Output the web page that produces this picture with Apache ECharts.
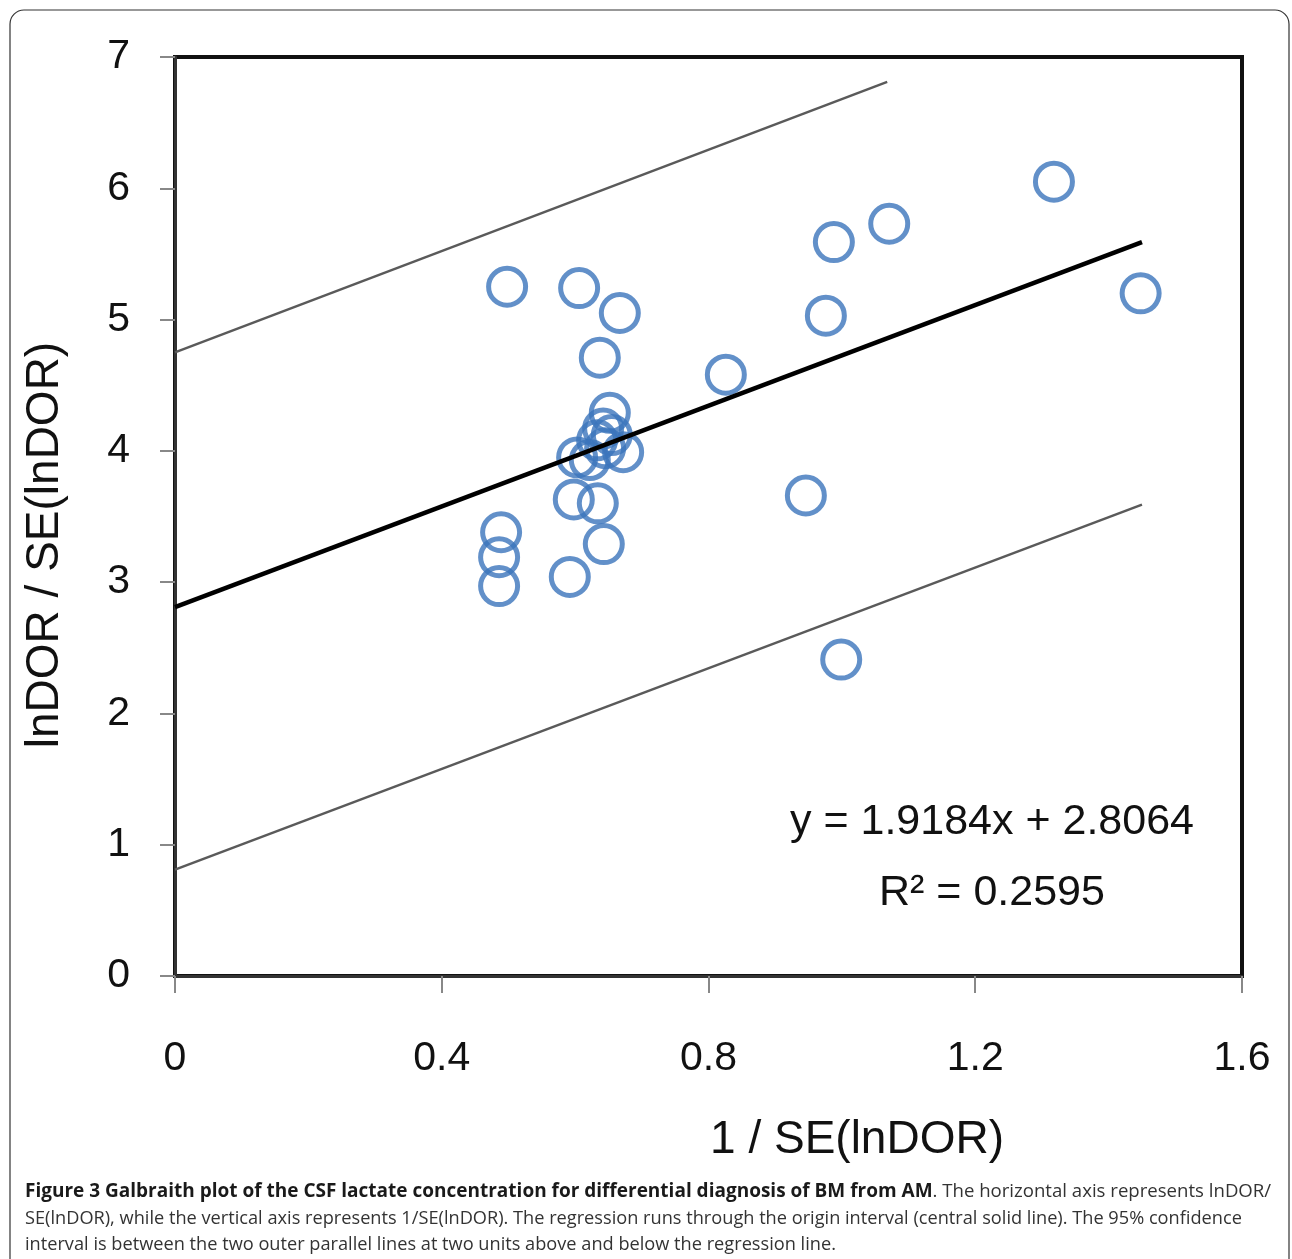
<!DOCTYPE html>
<html>
<head>
<meta charset="utf-8">
<script src="https://cdn.jsdelivr.net/npm/echarts@6/dist/echarts.min.js"></script>
<style>
html,body{margin:0;padding:0;background:#fff;}
#chart{width:1292px;height:1259px;}
</style>
</head>
<body>
<div id="chart"></div>
<script>
// Study points: x = 1/SE(lnDOR), y = lnDOR/SE(lnDOR)
const xValues = [0.498, 0.606, 0.667, 0.637, 0.826, 0.976, 0.988, 1.071, 1.318, 1.448,
                 0.946, 0.999, 0.489, 0.486, 0.486, 0.592, 0.643, 0.598, 0.634, 0.603,
                 0.652, 0.642, 0.655, 0.633, 0.672, 0.645, 0.622];
const yValues = [5.25, 5.24, 5.05, 4.71, 4.58, 5.03, 5.59, 5.73, 6.05, 5.20,
                 3.66, 2.41, 3.38, 3.19, 2.97, 3.04, 3.29, 3.63, 3.60, 3.95,
                 4.29, 4.17, 4.12, 4.08, 3.99, 4.02, 3.93];

// Regression line and 95% limits (end points)
const regLineX = [0, 1.45];
const regLineY = [2.81, 5.59];
const upperLineX = [0, 1.068];
const upperLineY = [4.75, 6.81];
const lowerLineX = [0, 1.45];
const lowerLineY = [0.81, 3.59];

const xTicks = [0, 0.4, 0.8, 1.2, 1.6];
const yTicks = [0, 1, 2, 3, 4, 5, 6, 7];

const equationText = 'y = 1.9184x + 2.8064';
const r2Text = 'R² = 0.2595';
const xAxisTitle = '1 / SE(lnDOR)';
const yAxisTitle = 'lnDOR / SE(lnDOR)';
const captionBold = 'Figure 3 Galbraith plot of the CSF lactate concentration for differential diagnosis of BM from AM';
const captionLines = [
  '. The horizontal axis represents lnDOR/',
  'SE(lnDOR), while the vertical axis represents 1/SE(lnDOR). The regression runs through the origin interval (central solid line). The 95% confidence',
  'interval is between the two outer parallel lines at two units above and below the regression line.'
];

const zip = (a, b) => a.map((v, i) => [v, b[i]]);
const font = 'Liberation Sans, Arial, sans-serif';
const capFont = '"Open Sans", sans-serif';

const chart = echarts.init(document.getElementById('chart'));
chart.setOption({
  animation: false,
  backgroundColor: '#fff',
  grid: {left: 175, right: 50, top: 57, bottom: 283, show: true, borderColor: '#111', borderWidth: 4, backgroundColor: 'transparent'},
  xAxis: {
    type: 'value', min: 0, max: 1.6, interval: 0.4,
    splitLine: {show: false},
    axisLine: {show: true, onZero: false, lineStyle: {color: '#333', width: 3}},
    axisTick: {show: true, inside: false, length: 17, lineStyle: {color: '#888', width: 2}},
    axisLabel: {fontSize: 41, color: '#111', fontFamily: font, margin: 62,
      formatter: v => { const t = xTicks.find(k => Math.abs(k - v) < 1e-9); return t === undefined ? '' : String(t); }}
  },
  yAxis: {
    type: 'value', min: 0, max: 7, interval: 1,
    splitLine: {show: false},
    axisLine: {show: true, onZero: false, lineStyle: {color: '#333', width: 3}},
    axisTick: {show: true, inside: false, length: 15, lineStyle: {color: '#888', width: 2}},
    axisLabel: {fontSize: 41, color: '#111', fontFamily: font, margin: 45,
      formatter: v => { const t = yTicks.find(k => Math.abs(k - v) < 1e-9); return t === undefined ? '' : String(t); }}
  },
  series: [
    {
      type: 'scatter', data: zip(xValues, yValues), symbol: 'circle', symbolSize: 37, z: 2,
      itemStyle: {color: 'rgba(255,255,255,0)', borderColor: '#3b74bc', borderWidth: 5}
    },
    {type: 'line', data: zip(upperLineX, upperLineY), symbol: 'none', z: 3, lineStyle: {color: '#5a5a5a', width: 2.5}},
    {type: 'line', data: zip(lowerLineX, lowerLineY), symbol: 'none', z: 3, lineStyle: {color: '#5a5a5a', width: 2.5}},
    {type: 'line', data: zip(regLineX, regLineY), symbol: 'none', z: 4, lineStyle: {color: '#000', width: 4.5}}
  ],
  graphic: [
    {type: 'rect', shape: {x: 10, y: 10, width: 1279, height: 1400, r: 14}, style: {fill: 'none', stroke: '#333', lineWidth: 1.2}, z: -1},
    {type: 'text', x: 992, y: 822, style: {text: equationText, font: '43px ' + font, fill: '#111', textAlign: 'center', textVerticalAlign: 'middle'}},
    {type: 'text', x: 992, y: 893, style: {text: r2Text, font: '43px ' + font, fill: '#111', textAlign: 'center', textVerticalAlign: 'middle'}},
    {type: 'text', x: 857, y: 1140, style: {text: xAxisTitle, font: '46px ' + font, fill: '#111', textAlign: 'center', textVerticalAlign: 'middle'}},
    {type: 'text', x: 45, y: 545, rotation: Math.PI / 2, style: {text: yAxisTitle, font: '46px ' + font, fill: '#111', textAlign: 'center', textVerticalAlign: 'middle'}},
    {type: 'text', x: 25, y: 1192, style: {
      text: '{b|' + captionBold + '}{n|' + captionLines[0] + '}',
      textVerticalAlign: 'middle',
      rich: {
        b: {font: 'bold 19px ' + capFont, fill: '#1a1a1a'},
        n: {font: '18.6px ' + capFont, fill: '#333'}
      }
    }},
    {type: 'text', x: 25, y: 1219, style: {text: captionLines[1], font: '18.2px ' + capFont, fill: '#333', textVerticalAlign: 'middle'}},
    {type: 'text', x: 25, y: 1245, style: {text: captionLines[2], font: '18.2px ' + capFont, fill: '#333', textVerticalAlign: 'middle'}}
  ]
});
</script>
</body>
</html>
